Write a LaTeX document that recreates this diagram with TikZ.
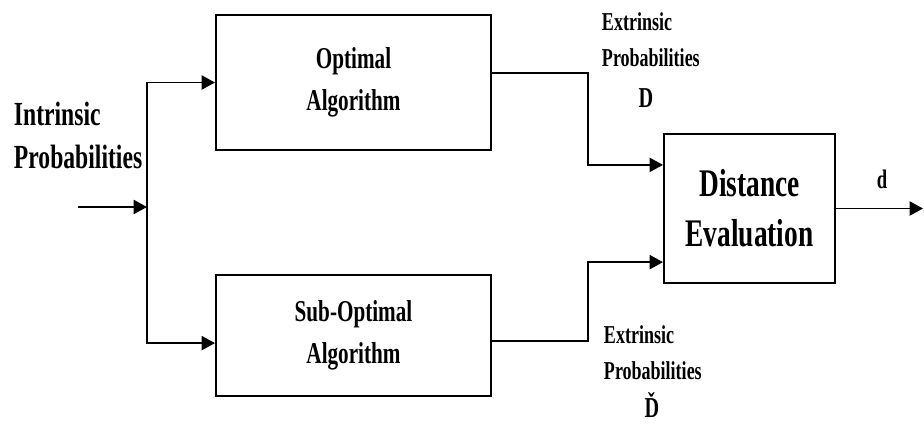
\documentclass[tikz,border=0pt]{standalone}
\usepackage{fontspec}
\setmainfont{Liberation Serif}[FakeStretch=0.7]
\usetikzlibrary{arrows.meta}
\begin{document}
\begin{tikzpicture}[x=0.025cm,y=-0.025cm,line width=1.4pt,
	>={Triangle[length=9.5pt,width=10pt]},
	box/.style={draw,rectangle,align=center,font=\bfseries\fontsize{21.5}{29.5}\selectfont},
	lbl/.style={inner sep=0pt,align=left,font=\bfseries\fontsize{18.3}{25}\selectfont}]
				\useasboundingbox (0,0) rectangle (924,423);
				% Blocs
				\node [box,minimum width=6.875cm,minimum height=3.375cm] (opt) at (353.5,82.5) {Optimal\\Algorithm};
				\node [box,minimum width=6.875cm,minimum height=3.025cm] (sub) at (353.5,335.5) {Sub-Optimal\\Algorithm};
				\node [box,minimum width=4.275cm,minimum height=3.725cm,font=\bfseries\fontsize{27.8}{35.5}\selectfont] (dist) at (749.5,208.5) {Distance\\Evaluation};
				% Textes
				\node [lbl,anchor=base west,font=\bfseries\fontsize{24}{30.5}\selectfont] (intr) at (13,168) {Intrinsic\\Probabilities};
				\node [lbl,anchor=base west] (extr1) at (601,66) {Extrinsic\\Probabilities};
				\node [lbl,anchor=base,font=\bfseries\fontsize{20.5}{24}\selectfont] (dopt) at (646,107) {D};
				\node [lbl,anchor=base west] (extr2) at (603,379) {Extrinsic\\Probabilities};
				\node [lbl,anchor=base,font=\bfseries\fontsize{20.5}{24}\selectfont] (dsub) at (652,417) {Ď};
				\node [lbl,anchor=base,font=\bfseries\fontsize{19}{24}\selectfont] (dout) at (882,188) {d};
				% Flèches
				\coordinate (in) at (78,207);
				\coordinate (split) at (147,207);
				\coordinate (out) at (923,208.5);
				\draw [->] (in) -- (split);
				\draw [->] (split) |- (opt.west);
				\draw [->] (split) |- ([yshift=-0.19cm]sub.west);
				\draw [->] ([yshift=0.24cm]opt.east) -- ++(96,0) |- ([yshift=1.09cm]dist.west);
				\draw [->] ([yshift=-0.14cm]sub.east) -- ++(96,0) |- ([yshift=-1.34cm]dist.west);
				\draw [->] (dist.east) -- (out);
\end{tikzpicture}
\end{document}
